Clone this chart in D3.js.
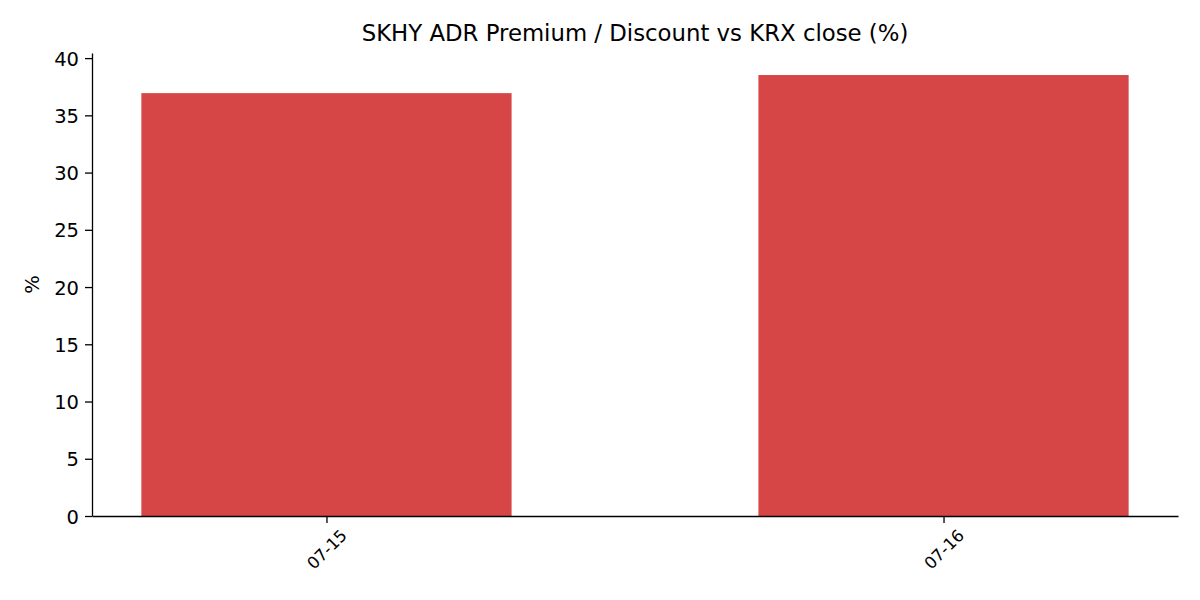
<!DOCTYPE html>
<html>
<head>
<meta charset="utf-8">
<script src="https://cdn.jsdelivr.net/npm/d3@7"></script>
<style>
  body { margin: 0; background: #fff; }
  text { font-family: "DejaVu Sans", sans-serif; fill: #000; }
</style>
</head>
<body>
<svg id="chart" width="1200" height="600"></svg>
<script>
const dates = ["07-15", "07-16"];
const premium = [36.94, 38.52];
const yTicks = [0, 5, 10, 15, 20, 25, 30, 35, 40];

const dim = { width: 1200, height: 600 };
const margin = { top: 53, right: 22, bottom: 84, left: 92 };
const innerW = dim.width - margin.left - margin.right;
const innerH = dim.height - margin.top - margin.bottom;

const svg = d3.select("#chart");
const g = svg.append("g").attr("transform", `translate(${margin.left},${margin.top})`);

// Scales (matplotlib-like: bar width 0.6, 5% margins)
const barW = 0.6;
const xMin = -barW / 2, xMax = dates.length - 1 + barW / 2;
const pad = (xMax - xMin) * 0.05;
const x = d3.scaleLinear().domain([xMin - pad, xMax + pad]).range([0, innerW]);
const y = d3.scaleLinear().domain([0, d3.max(premium) * 1.05]).range([innerH, 0]);

// Bars
g.selectAll("rect.bar")
    .data(premium)
    .join("rect")
    .attr("class", "bar")
    .attr("x", (d, i) => x(i - barW / 2))
    .attr("width", x(barW) - x(0))
    .attr("y", d => y(d))
    .attr("height", d => y(0) - y(d))
    .attr("fill", "#d64646");

// Y axis
const yAxis = g.append("g")
    .call(d3.axisLeft(y).tickValues(yTicks).tickSize(7).tickPadding(6).tickSizeOuter(0));
yAxis.select(".domain").attr("stroke", "#000").attr("stroke-width", 1.3);
yAxis.selectAll(".tick line").attr("stroke", "#000").attr("stroke-width", 1.3);
yAxis.selectAll(".tick text").style("font-size", "19.5px").attr("dy", "0.36em");

// X axis
const xAxis = g.append("g")
    .attr("transform", `translate(0,${innerH})`)
    .call(d3.axisBottom(x).tickValues(d3.range(dates.length)).tickFormat(i => dates[i]).tickSize(7).tickSizeOuter(0));
xAxis.select(".domain").attr("stroke", "#000").attr("stroke-width", 1.3);
xAxis.selectAll(".tick line").attr("stroke", "#000").attr("stroke-width", 1.3);
xAxis.selectAll(".tick text")
    .style("font-size", "16.5px")
    .attr("text-anchor", "middle")
    .attr("dy", "0.35em")
    .attr("y", 0)
    .attr("transform", function () {
        const L = this.getComputedTextLength();
        const h = 16.5 * 0.75;
        const half = (L + h) / (2 * Math.SQRT2);
        return `translate(0,${12 + half}) rotate(-45)`;
    });

// Title and y label
svg.append("text")
    .attr("x", margin.left + innerW / 2)
    .attr("y", 41)
    .attr("text-anchor", "middle")
    .style("font-size", "22.8px")
    .text("SKHY ADR Premium / Discount vs KRX close (%)");

svg.append("text")
    .attr("transform", `translate(39,${margin.top + innerH / 2}) rotate(-90)`)
    .attr("text-anchor", "middle")
    .style("font-size", "19.5px")
    .text("%");
</script>
</body>
</html>
